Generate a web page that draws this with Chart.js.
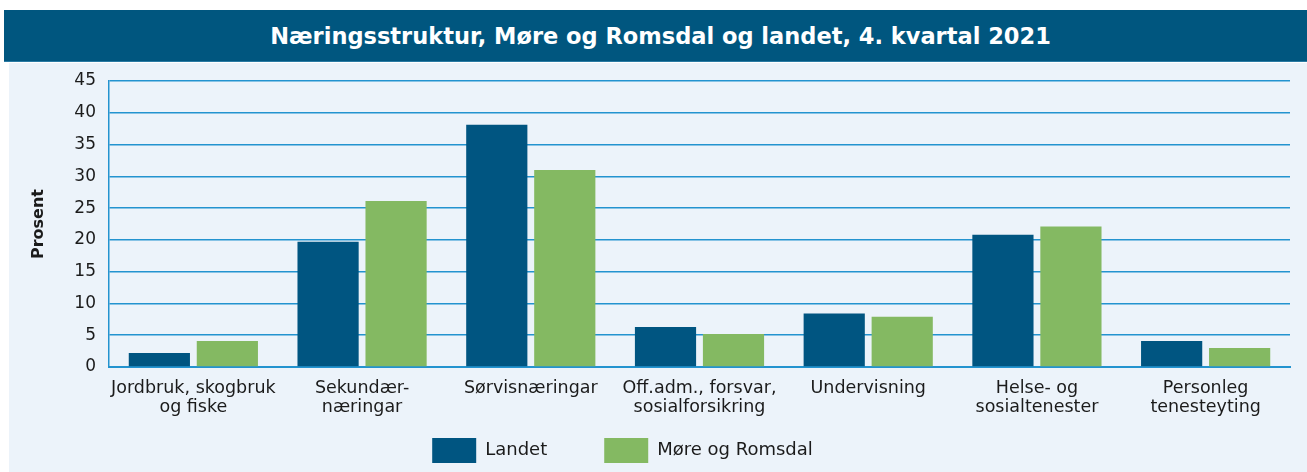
<!DOCTYPE html>
<html>
<head>
<meta charset="utf-8">
<script src="https://cdn.jsdelivr.net/npm/chart.js@4"></script>
<style>
  html, body { margin: 0; padding: 0; background: #ffffff; width: 1307px; height: 472px; overflow: hidden; }
  #banner {
    position: absolute; left: 4px; top: 10px; width: 1303px; height: 52px;
    background: #00567f; color: #ffffff;
    font-family: "DejaVu Sans", sans-serif; font-weight: 700; font-size: 22.5px;
    display: flex; align-items: center; justify-content: center;
    padding-left: 10px; box-sizing: border-box;
    border-bottom: 1px solid #2a7aa3;
  }
  #wrap { position: absolute; left: 9px; top: 63px; width: 1298px; height: 409px; background: #ecf3fa; }
  canvas { display: block; }
</style>
</head>
<body>
<div id="banner">Næringsstruktur, Møre og Romsdal og landet, 4. kvartal 2021</div>
<div id="wrap"><canvas id="c" width="1298" height="409"></canvas></div>
<script>
const categories = [
  ["Jordbruk, skogbruk", "og fiske"],
  ["Sekundær-", "næringar"],
  ["Sørvisnæringar"],
  ["Off.adm., forsvar,", "sosialforsikring"],
  ["Undervisning"],
  ["Helse- og", "sosialtenester"],
  ["Personleg", "tenesteyting"]
];
const seriesNames = ["Landet", "Møre og Romsdal"];
const landet = [2.2, 19.7, 38.1, 6.3, 8.4, 20.8, 4.1];
const moreRomsdal = [4.1, 26.1, 31.0, 5.2, 7.9, 22.1, 3.0];
const yTicks = [0, 5, 10, 15, 20, 25, 30, 35, 40, 45];
const yTitle = "Prosent";

const gridBlue = "#2393cf";
const textColor = "#1b1b1b";
const fontFamily = "'DejaVu Sans', sans-serif";

const legendShift = {
  id: "legendShift",
  afterLayout(chart) {
    const lg = chart.legend;
    if (!lg) return;
    const dx = -27;
    lg.left += dx; lg.right += dx;
    lg.top = 375 - lg.options.labels.padding;
  }
};

new Chart(document.getElementById("c"), {
  type: "bar",
  data: {
    labels: categories,
    datasets: [
      { label: seriesNames[0], data: landet, backgroundColor: "#005581", barPercentage: 0.9, categoryPercentage: 0.806 },
      { label: seriesNames[1], data: moreRomsdal, backgroundColor: "#84b962", barPercentage: 0.9, categoryPercentage: 0.806 }
    ]
  },
  options: {
    responsive: false,
    animation: false,
    devicePixelRatio: 1,
    layout: { padding: { top: 18, right: 17, left: 0, bottom: 0 } },
    plugins: {
      legend: {
        position: "bottom",
        maxHeight: 45,
        labels: {
          boxWidth: 44, boxHeight: 25, padding: 57,
          color: textColor,
          font: { family: fontFamily, size: 18 }
        }
      },
      tooltip: { enabled: false }
    },
    scales: {
      x: {
        grid: { display: false, drawTicks: false },
        border: { display: true, color: gridBlue, width: 2 },
        ticks: {
          color: textColor, padding: 12, maxRotation: 0, autoSkip: false,
          font: { family: fontFamily, size: 17.5, lineHeight: 1.08 }
        },
        afterFit(scale) { scale.height = 60; }
      },
      y: {
        min: 0, max: 45,
        afterBuildTicks(scale) { scale.ticks = yTicks.map(v => ({ value: v })); },
        grid: { color: gridBlue, lineWidth: 1.5, drawTicks: false },
        border: { display: true, color: gridBlue, width: 1.5 },
        ticks: {
          color: textColor, padding: 13,
          font: { family: fontFamily, size: 17 }
        },
        title: {
          display: true, text: yTitle, color: textColor,
          font: { family: fontFamily, size: 16, weight: "600" },
          padding: { top: 20, bottom: 0 }
        },
        afterFit(scale) { scale.width = 100; scale.paddingTop = 0; }
      }
    }
  },
  plugins: [legendShift]
});
</script>
</body>
</html>
